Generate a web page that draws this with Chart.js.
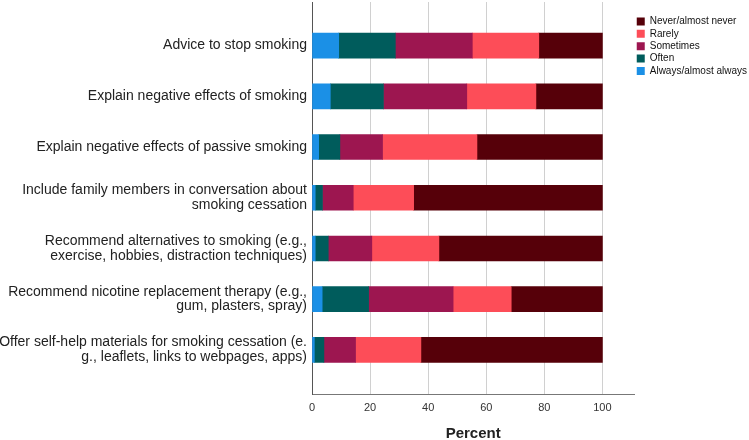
<!DOCTYPE html>
<html>
<head>
<meta charset="utf-8">
<script src="https://cdn.jsdelivr.net/npm/chart.js@4/dist/chart.umd.min.js"></script>
<style>
    body { margin: 0; background: #fff; }
    #wrap { width: 749px; height: 440px; }
</style>
</head>
<body>
<div id="wrap"><canvas id="freqChart" width="749" height="440"></canvas></div>
<script>
// Categories (multi-line labels as arrays)
const categories = [
    ['Advice to stop smoking'],
    ['Explain negative effects of smoking'],
    ['Explain negative effects of passive smoking'],
    ['Include family members in conversation about', 'smoking cessation'],
    ['Recommend alternatives to smoking (e.g.,', 'exercise, hobbies, distraction techniques)'],
    ['Recommend nicotine replacement therapy (e.g.,', 'gum, plasters, spray)'],
    ['Offer self-help materials for smoking cessation (e.', 'g., leaflets, links to webpages, apps)']
];

// Percent per answer
const always    = [9.2, 6.3, 2.3, 1.1, 1.1, 3.5, 0.8];
const often     = [19.5, 18.3, 7.3, 2.5, 4.5, 16.0, 3.3];
const sometimes = [26.5, 28.7, 14.7, 10.6, 15.0, 29.1, 10.9];
const rarely    = [22.9, 23.8, 32.5, 20.8, 23.1, 20.0, 22.5];
const never     = [21.9, 22.9, 43.2, 65.0, 56.3, 31.4, 62.5];

const xTicks = [0, 20, 40, 60, 80, 100];

document.addEventListener('DOMContentLoaded', function () {
    initializeChart();
});

function toPoints(values) {
    return values.map((v, i) => ({ x: v, y: i }));
}

function initializeChart() {
    const ctx = document.getElementById('freqChart').getContext('2d');
    const font = "'Liberation Sans', Arial, sans-serif";

    new Chart(ctx, {
        type: 'bar',
        data: {
            datasets: [
                { label: 'Always/almost always', data: toPoints(always), backgroundColor: '#1b90e6' },
                { label: 'Often', data: toPoints(often), backgroundColor: '#005c5c' },
                { label: 'Sometimes', data: toPoints(sometimes), backgroundColor: '#9d1650' },
                { label: 'Rarely', data: toPoints(rarely), backgroundColor: '#fd4d58' },
                { label: 'Never/almost never', data: toPoints(never), backgroundColor: '#560009' }
            ]
        },
        options: {
            indexAxis: 'y',
            responsive: false,
            devicePixelRatio: 1,
            animation: false,
            barThickness: 25,
            layout: { padding: { top: 2, left: 0, right: -8, bottom: 0 } },
            plugins: {
                legend: {
                    position: 'right',
                    align: 'start',
                    reverse: true,
                    title: {
                        display: true,
                        text: ' ',
                        padding: 0,
                        font: { family: font, size: 10 }
                    },
                    labels: {
                        boxWidth: 8,
                        boxHeight: 8,
                        padding: 2.4,
                        color: '#111',
                        font: { family: font, size: 10 }
                    }
                },
                tooltip: { enabled: false }
            },
            scales: {
                x: {
                    type: 'linear',
                    stacked: true,
                    min: 0,
                    max: 111,
                    afterBuildTicks: function (scale) {
                        scale.ticks = xTicks.map(v => ({ value: v }));
                    },
                    grid: {
                        color: function (c) { return c.tick && c.tick.value === 0 ? 'rgba(0,0,0,0)' : '#d0d0d0'; },
                        drawTicks: false
                    },
                    border: { color: '#777' },
                    ticks: {
                        padding: 7,
                        color: '#333',
                        font: { family: font, size: 11 }
                    },
                    title: {
                        display: true,
                        text: 'Percent',
                        color: '#222',
                        padding: { top: 3.8, bottom: -3 },
                        font: { family: font, size: 15, weight: 'bold' }
                    }
                },
                y: {
                    type: 'linear',
                    stacked: true,
                    reverse: true,
                    offset: false,
                    min: -0.86,
                    max: 6.87,
                    afterBuildTicks: function (scale) {
                        scale.ticks = categories.map((c, i) => ({ value: i }));
                    },
                    afterFit: function (scale) {
                        scale.width = 312;
                        scale.paddingTop = 0;
                        scale.paddingBottom = 0;
                    },
                    grid: { display: false, drawTicks: false },
                    border: { color: '#555' },
                    ticks: {
                        padding: 5,
                        color: '#222',
                        font: { family: font, size: 14, lineHeight: 1.04 },
                        callback: function (value) { return categories[value]; }
                    }
                }
            }
        }
    });
}
</script>
</body>
</html>
